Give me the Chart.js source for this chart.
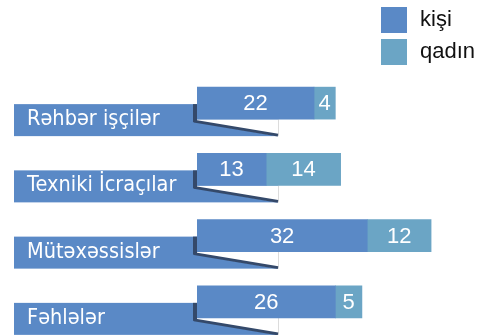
<!DOCTYPE html>
<html>
<head>
<meta charset="utf-8">
<script src="https://cdn.jsdelivr.net/npm/chart.js@4/dist/chart.umd.min.js"></script>
<style>
  html, body { margin: 0; padding: 0; background: #fff; }
  #wrap { width: 484px; height: 335px; position: relative; }
</style>
</head>
<body>
<div id="wrap"><canvas id="staffChart"></canvas></div>
<script>
const categories = ["Rəhbər işçilər", "Texniki İcraçılar", "Mütəxəssislər", "Fəhlələr"];
const kisi = [22, 13, 32, 26];
const qadin = [4, 14, 12, 5];
const seriesNames = ["kişi", "qadın"];
const colors = ["#5a89c6", "#6ba5c5"];

// label boxes sit to the left of the bars, with a folded corner under each bar
const BOX_LEFT = 14;
const BOX_RIGHT = 278;

const calloutPlugin = {
  id: "callouts",
  beforeDatasetsDraw(chart) {
    const ctx = chart.ctx;
    const meta = chart.getDatasetMeta(0);
    meta.data.forEach((bar, i) => {
      const top = bar.y - bar.height / 2;
      const bottom = bar.y + bar.height / 2;
      const left = Math.min(bar.base, bar.x);
      const boxTop = top + 17;
      const boxBottom = boxTop + 32;
      ctx.save();
      ctx.fillStyle = colors[0];
      ctx.fillRect(BOX_LEFT, boxTop, BOX_RIGHT - BOX_LEFT, boxBottom - boxTop);

      // white fold under the bar
      ctx.fillStyle = "#fff";
      ctx.beginPath();
      ctx.moveTo(left, bottom);
      ctx.lineTo(BOX_RIGHT + 1, bottom);
      ctx.lineTo(BOX_RIGHT + 1, boxBottom);
      ctx.lineTo(left, bottom + 3);
      ctx.closePath();
      ctx.fill();
      ctx.strokeStyle = "#dcdcdc";
      ctx.lineWidth = 1;
      ctx.beginPath();
      ctx.moveTo(BOX_RIGHT + 0.5, bottom);
      ctx.lineTo(BOX_RIGHT + 0.5, boxBottom);
      ctx.stroke();

      // shadow edges of the fold
      ctx.fillStyle = "#34496a";
      ctx.fillRect(left - 4, boxTop, 4, bottom + 3 - boxTop);
      ctx.strokeStyle = "#34496a";
      ctx.lineWidth = 3;
      ctx.beginPath();
      ctx.moveTo(left - 3, bottom + 2);
      ctx.lineTo(BOX_RIGHT, boxBottom - 1);
      ctx.stroke();

      // category name, slightly condensed
      ctx.fillStyle = "#fff";
      ctx.font = "22px 'DejaVu Sans'";
      ctx.textBaseline = "alphabetic";
      ctx.translate(27, boxTop + 21);
      ctx.scale(0.88, 1);
      ctx.fillText(chart.data.labels[i], 0, 0);
      ctx.restore();
    });
  },
  afterDatasetsDraw(chart) {
    const ctx = chart.ctx;
    ctx.save();
    ctx.fillStyle = "#fff";
    ctx.font = "22px 'Liberation Sans', Arial, sans-serif";
    ctx.textAlign = "center";
    ctx.textBaseline = "middle";
    chart.data.datasets.forEach((ds, d) => {
      chart.getDatasetMeta(d).data.forEach((bar, i) => {
        const cx = (bar.x + bar.base) / 2;
        ctx.fillText(String(ds.data[i]), cx, bar.y + 1);
      });
    });
    ctx.restore();
  },
  afterDraw(chart) {
    // legend, top right
    const ctx = chart.ctx;
    ctx.save();
    ctx.font = "22px 'Liberation Sans', Arial, sans-serif";
    ctx.textBaseline = "middle";
    chart.data.datasets.forEach((ds, d) => {
      const y = 7 + d * 32;
      ctx.fillStyle = ds.backgroundColor;
      ctx.fillRect(381, y, 26, 26);
      ctx.fillStyle = "#111";
      ctx.fillText(ds.label, 420, y + 13);
    });
    ctx.restore();
  }
};

new Chart(document.getElementById("staffChart"), {
  type: "bar",
  data: {
    labels: categories,
    datasets: [
      { label: seriesNames[0], data: kisi, backgroundColor: colors[0] },
      { label: seriesNames[1], data: qadin, backgroundColor: colors[1] }
    ]
  },
  options: {
    indexAxis: "y",
    responsive: true,
    maintainAspectRatio: false,
    animation: false,
    layout: { padding: { left: 197, top: 70, right: 21, bottom: 0 } },
    datasets: { bar: { barThickness: 32, borderWidth: 0 } },
    scales: {
      x: { stacked: true, display: false, min: 0, max: 50 },
      y: { stacked: true, display: false }
    },
    plugins: {
      legend: { display: false },
      tooltip: { enabled: false }
    }
  },
  plugins: [calloutPlugin]
});
</script>
</body>
</html>
